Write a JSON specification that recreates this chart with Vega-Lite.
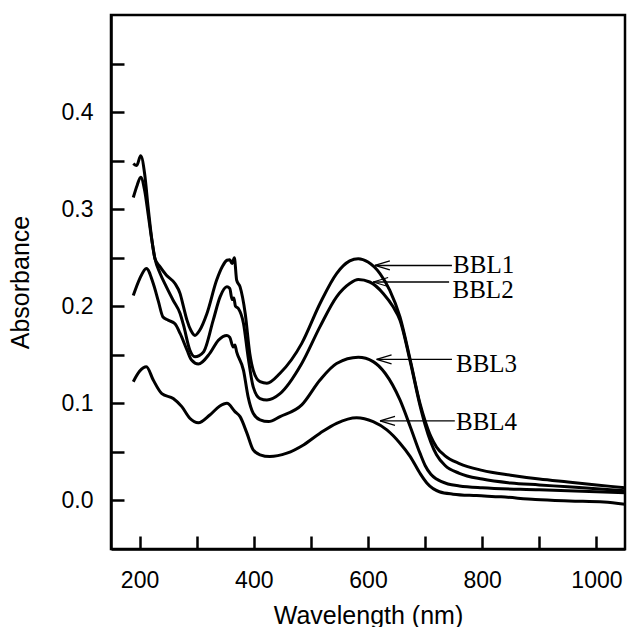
{
  "$schema": "https://vega.github.io/schema/vega-lite/v6.json",
  "autosize": {"type": "none"},
  "width": 514,
  "height": 534,
  "padding": {"left": 111, "top": 15, "right": 2, "bottom": 78},
  "background": "white",
  "config": {
    "view": {"stroke": "black", "strokeWidth": 2.5},
    "axis": {"grid": false, "domainColor": "black", "domainWidth": 2.5, "tickColor": "black", "tickWidth": 2.5,
      "labelFont": "Liberation Sans", "labelFontSize": 23, "labelColor": "black",
      "titleFont": "Liberation Sans", "titleFontSize": 25, "titleFontWeight": "normal", "titleColor": "black"}
  },
  "datasets": {
    "spectra": [
      {"s":"BBL1","x":189,"y":0.347},{"s":"BBL1","x":195,"y":0.345},{"s":"BBL1","x":202,"y":0.355},{"s":"BBL1","x":209,"y":0.336},{"s":"BBL1","x":215,"y":0.302},{"s":"BBL1","x":221,"y":0.271},{"s":"BBL1","x":227,"y":0.249},{"s":"BBL1","x":236,"y":0.2405},{"s":"BBL1","x":247,"y":0.232},{"s":"BBL1","x":262,"y":0.2234},{"s":"BBL1","x":271,"y":0.213},{"s":"BBL1","x":277,"y":0.1994},{"s":"BBL1","x":283,"y":0.1857},{"s":"BBL1","x":290,"y":0.175},{"s":"BBL1","x":297,"y":0.170},{"s":"BBL1","x":305,"y":0.175},{"s":"BBL1","x":318,"y":0.1926},{"s":"BBL1","x":335,"y":0.227},{"s":"BBL1","x":345,"y":0.241},{"s":"BBL1","x":353,"y":0.2474},{"s":"BBL1","x":358,"y":0.248},{"s":"BBL1","x":362,"y":0.244},{"s":"BBL1","x":366,"y":0.250},{"s":"BBL1","x":370,"y":0.227},{"s":"BBL1","x":376,"y":0.220},{"s":"BBL1","x":385,"y":0.1926},{"s":"BBL1","x":393,"y":0.1515},{"s":"BBL1","x":399,"y":0.1343},{"s":"BBL1","x":411,"y":0.1223},{"s":"BBL1","x":423,"y":0.1207},{"s":"BBL1","x":446,"y":0.131},{"s":"BBL1","x":484,"y":0.1618},{"s":"BBL1","x":516,"y":0.2029},{"s":"BBL1","x":545,"y":0.2337},{"s":"BBL1","x":568,"y":0.2467},{"s":"BBL1","x":583,"y":0.249},{"s":"BBL1","x":600,"y":0.2456},{"s":"BBL1","x":621,"y":0.2337},{"s":"BBL1","x":638,"y":0.2166},{"s":"BBL1","x":656,"y":0.189},{"s":"BBL1","x":674,"y":0.1446},{"s":"BBL1","x":691,"y":0.100},{"s":"BBL1","x":700,"y":0.082},{"s":"BBL1","x":710,"y":0.066},{"s":"BBL1","x":720,"y":0.055},{"s":"BBL1","x":735,"y":0.046},{"s":"BBL1","x":760,"y":0.038},{"s":"BBL1","x":800,"y":0.031},{"s":"BBL1","x":850,"y":0.026},{"s":"BBL1","x":900,"y":0.022},{"s":"BBL1","x":950,"y":0.019},{"s":"BBL1","x":1000,"y":0.016},{"s":"BBL1","x":1050,"y":0.013},
      {"s":"BBL2","x":189,"y":0.312},{"s":"BBL2","x":196,"y":0.325},{"s":"BBL2","x":202,"y":0.333},{"s":"BBL2","x":209,"y":0.319},{"s":"BBL2","x":215,"y":0.295},{"s":"BBL2","x":221,"y":0.27},{"s":"BBL2","x":227,"y":0.249},{"s":"BBL2","x":236,"y":0.2337},{"s":"BBL2","x":247,"y":0.22},{"s":"BBL2","x":259,"y":0.206},{"s":"BBL2","x":271,"y":0.1926},{"s":"BBL2","x":277,"y":0.1805},{"s":"BBL2","x":288,"y":0.155},{"s":"BBL2","x":297,"y":0.148},{"s":"BBL2","x":312,"y":0.153},{"s":"BBL2","x":329,"y":0.1857},{"s":"BBL2","x":341,"y":0.2097},{"s":"BBL2","x":353,"y":0.220},{"s":"BBL2","x":358,"y":0.2183},{"s":"BBL2","x":362,"y":0.207},{"s":"BBL2","x":365,"y":0.2085},{"s":"BBL2","x":368,"y":0.2},{"s":"BBL2","x":373,"y":0.1977},{"s":"BBL2","x":382,"y":0.1823},{"s":"BBL2","x":390,"y":0.148},{"s":"BBL2","x":399,"y":0.117},{"s":"BBL2","x":411,"y":0.105},{"s":"BBL2","x":423,"y":0.1035},{"s":"BBL2","x":446,"y":0.110},{"s":"BBL2","x":484,"y":0.141},{"s":"BBL2","x":516,"y":0.179},{"s":"BBL2","x":545,"y":0.2097},{"s":"BBL2","x":568,"y":0.2234},{"s":"BBL2","x":583,"y":0.2275},{"s":"BBL2","x":603,"y":0.225},{"s":"BBL2","x":627,"y":0.213},{"s":"BBL2","x":644,"y":0.1994},{"s":"BBL2","x":656,"y":0.1857},{"s":"BBL2","x":674,"y":0.143},{"s":"BBL2","x":691,"y":0.098},{"s":"BBL2","x":700,"y":0.078},{"s":"BBL2","x":710,"y":0.060},{"s":"BBL2","x":720,"y":0.047},{"s":"BBL2","x":735,"y":0.036},{"s":"BBL2","x":760,"y":0.028},{"s":"BBL2","x":800,"y":0.022},{"s":"BBL2","x":850,"y":0.018},{"s":"BBL2","x":900,"y":0.016},{"s":"BBL2","x":950,"y":0.014},{"s":"BBL2","x":1000,"y":0.012},{"s":"BBL2","x":1050,"y":0.010},
      {"s":"BBL3","x":189,"y":0.211},{"s":"BBL3","x":200,"y":0.228},{"s":"BBL3","x":212,"y":0.239},{"s":"BBL3","x":224,"y":0.2234},{"s":"BBL3","x":233,"y":0.205},{"s":"BBL3","x":241,"y":0.189},{"s":"BBL3","x":250,"y":0.1857},{"s":"BBL3","x":262,"y":0.182},{"s":"BBL3","x":271,"y":0.172},{"s":"BBL3","x":283,"y":0.155},{"s":"BBL3","x":291,"y":0.1446},{"s":"BBL3","x":303,"y":0.1405},{"s":"BBL3","x":323,"y":0.1515},{"s":"BBL3","x":338,"y":0.165},{"s":"BBL3","x":353,"y":0.170},{"s":"BBL3","x":358,"y":0.168},{"s":"BBL3","x":364,"y":0.158},{"s":"BBL3","x":367,"y":0.16},{"s":"BBL3","x":370,"y":0.153},{"s":"BBL3","x":382,"y":0.134},{"s":"BBL3","x":390,"y":0.107},{"s":"BBL3","x":399,"y":0.0898},{"s":"BBL3","x":411,"y":0.083},{"s":"BBL3","x":426,"y":0.0812},{"s":"BBL3","x":446,"y":0.0863},{"s":"BBL3","x":484,"y":0.0984},{"s":"BBL3","x":516,"y":0.124},{"s":"BBL3","x":545,"y":0.141},{"s":"BBL3","x":583,"y":0.1474},{"s":"BBL3","x":609,"y":0.143},{"s":"BBL3","x":630,"y":0.131},{"s":"BBL3","x":656,"y":0.1035},{"s":"BBL3","x":674,"y":0.076},{"s":"BBL3","x":691,"y":0.0487},{"s":"BBL3","x":700,"y":0.036},{"s":"BBL3","x":710,"y":0.027},{"s":"BBL3","x":720,"y":0.022},{"s":"BBL3","x":740,"y":0.017},{"s":"BBL3","x":760,"y":0.015},{"s":"BBL3","x":800,"y":0.013},{"s":"BBL3","x":900,"y":0.011},{"s":"BBL3","x":1000,"y":0.009},{"s":"BBL3","x":1050,"y":0.008},
      {"s":"BBL4","x":189,"y":0.1223},{"s":"BBL4","x":200,"y":0.133},{"s":"BBL4","x":212,"y":0.1377},{"s":"BBL4","x":224,"y":0.124},{"s":"BBL4","x":239,"y":0.110},{"s":"BBL4","x":259,"y":0.105},{"s":"BBL4","x":274,"y":0.0966},{"s":"BBL4","x":288,"y":0.0847},{"s":"BBL4","x":303,"y":0.080},{"s":"BBL4","x":323,"y":0.088},{"s":"BBL4","x":340,"y":0.097},{"s":"BBL4","x":353,"y":0.100},{"s":"BBL4","x":367,"y":0.0915},{"s":"BBL4","x":376,"y":0.0863},{"s":"BBL4","x":388,"y":0.0693},{"s":"BBL4","x":399,"y":0.052},{"s":"BBL4","x":411,"y":0.047},{"s":"BBL4","x":428,"y":0.0452},{"s":"BBL4","x":458,"y":0.0487},{"s":"BBL4","x":487,"y":0.0572},{"s":"BBL4","x":516,"y":0.0693},{"s":"BBL4","x":545,"y":0.0795},{"s":"BBL4","x":580,"y":0.0853},{"s":"BBL4","x":609,"y":0.0812},{"s":"BBL4","x":633,"y":0.0727},{"s":"BBL4","x":656,"y":0.059},{"s":"BBL4","x":674,"y":0.0452},{"s":"BBL4","x":691,"y":0.028},{"s":"BBL4","x":703,"y":0.018},{"s":"BBL4","x":725,"y":0.009},{"s":"BBL4","x":749,"y":0.0065},{"s":"BBL4","x":790,"y":0.005},{"s":"BBL4","x":833,"y":0.0037},{"s":"BBL4","x":893,"y":0.001},{"s":"BBL4","x":953,"y":-0.0005},{"s":"BBL4","x":1013,"y":-0.0016},{"s":"BBL4","x":1050,"y":-0.004}
    ],
    "labels": [
      {"s":"BBL1","tip":612,"end":747,"ay":0.242,"tx":749,"ty":0.243},
      {"s":"BBL2","tip":609,"end":742,"ay":0.225,"tx":748,"ty":0.2166},
      {"s":"BBL3","tip":615,"end":747,"ay":0.1453,"tx":754,"ty":0.1405},
      {"s":"BBL4","tip":621,"end":752,"ay":0.0819,"tx":754,"ty":0.0812}
    ]
  },
  "layer": [
    {
      "data": {"name": "spectra"},
      "mark": {"type": "line", "color": "black", "strokeWidth": 3, "interpolate": "monotone", "clip": true},
      "encoding": {
        "x": {"field": "x", "type": "quantitative", "scale": {"domain": [150, 1050], "nice": false, "zero": false},
          "axis": {"title": "Wavelength (nm)", "values": [200,300,400,500,600,700,800,900,1000], "format": "d", "tickSize": -13, "labelPadding": 33, "titlePadding": 11,
            "labelExpr": "datum.value % 200 === 0 ? datum.label : ''",
            "encode": {"ticks": {"update": {"y2": {"signal": "datum.value % 200 === 0 ? -13 : -7"}}}}}},
        "y": {"field": "y", "type": "quantitative", "scale": {"domain": [-0.05, 0.5], "nice": false, "zero": false},
          "axis": {"title": "Absorbance", "values": [0,0.05,0.1,0.15,0.2,0.25,0.3,0.35,0.4,0.45], "format": ".1f", "tickSize": -13, "labelPadding": 31, "titlePadding": 28,
            "labelExpr": "round(datum.value*100) % 10 === 0 ? datum.label : ''",
            "encode": {"ticks": {"update": {"x2": {"signal": "round(datum.value*100) % 10 === 0 ? 13 : 7"}}}}}},
        "detail": {"field": "s"}
      }
    },
    {
      "data": {"name": "labels"},
      "mark": {"type": "rule", "color": "black", "strokeWidth": 1.3},
      "encoding": {
        "x": {"field": "tip", "type": "quantitative"},
        "x2": {"field": "end"},
        "y": {"field": "ay", "type": "quantitative"}
      }
    },
    {
      "data": {"name": "labels"},
      "mark": {"type": "point", "shape": "M0,0L2,-0.6M0,0L2,0.6", "filled": false, "color": "black", "strokeWidth": 1.3, "size": 225, "opacity": 1},
      "encoding": {
        "x": {"field": "tip", "type": "quantitative"},
        "y": {"field": "ay", "type": "quantitative"}
      }
    },
    {
      "data": {"name": "labels"},
      "mark": {"type": "text", "align": "left", "baseline": "middle", "font": "Liberation Serif", "fontSize": 25, "color": "black"},
      "encoding": {
        "x": {"field": "tx", "type": "quantitative"},
        "y": {"field": "ty", "type": "quantitative"},
        "text": {"field": "s"}
      }
    }
  ]
}
